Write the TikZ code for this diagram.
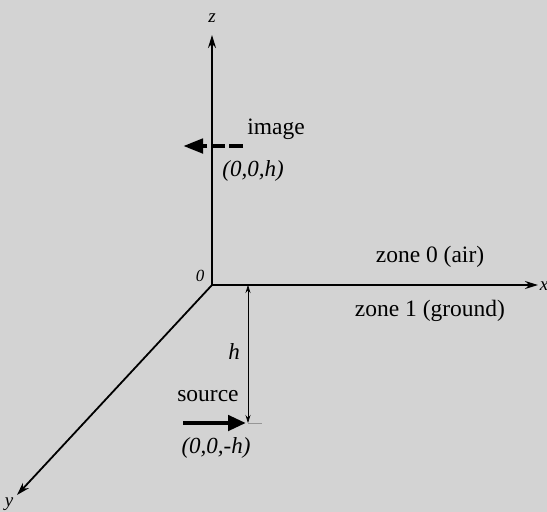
\documentclass[tikz,border=0pt]{standalone}
\usepackage{fontspec}
\setmainfont{Liberation Serif}
\usetikzlibrary{arrows.meta}
\begin{document}
\begin{tikzpicture}[x=1pt,y=-1pt,
  axis/.style={line width=1.8pt,-{Stealth[length=13pt,width=8pt]}},
  thickarrow/.style={line width=4.5pt,-{Triangle[length=18pt,width=15pt]}},
  dim/.style={line width=0.7pt,{Stealth[length=8pt,width=5pt]}-{Stealth[length=8pt,width=5pt]}},
  lbl/.style={font=\fontsize{23.5}{28}\selectfont,inner sep=0pt},
  ilbl/.style={font=\fontsize{23}{28}\selectfont\itshape,inner sep=0pt}]
\fill[color={rgb,255:red,211;green,211;blue,211}] (0,0) rectangle (547,512);
\useasboundingbox (0,0) rectangle (547,512);
\coordinate (O) at (212,285);
\coordinate (zend) at (212,35);
\coordinate (xend) at (538,285);
\coordinate (yend) at (17,495);
\draw[axis] (O) -- (zend);
\draw[axis] (O) -- (xend);
\draw[axis] (O) -- (yend);
\node[ilbl,font=\fontsize{19}{22}\selectfont\itshape] (zl) at (212,18) {z};
\node[ilbl,font=\fontsize{19}{22}\selectfont\itshape] (xl) at (544,286) {x};
\node[ilbl,font=\fontsize{19}{22}\selectfont\itshape] (yl) at (9,504) {y};
\node[ilbl,font=\fontsize{17}{20}\selectfont\itshape] (ol) at (200,276) {0};
% image
\coordinate (imgs) at (243,146);
\coordinate (imge) at (183,146);
\draw[line width=4.5pt,dash pattern=on 14pt off 4pt] (imgs) -- (203,146);
\draw[line width=4.5pt,-{Triangle[length=20pt,width=14pt]}] (205,146) -- (imge);
\node[lbl] (img) at (276,129) {image};
\node[ilbl] (imgc) at (253,171) {(0,0,h)};
% h dimension
\coordinate (htop) at (248,285);
\coordinate (hbot) at (248,423);
\draw[dim] (htop) -- (hbot);
\node[ilbl] (hl) at (234,352) {h};
\draw[line width=0.8pt,color={rgb,255:red,150;green,150;blue,150}] (hbot) -- (262,423);
% source
\coordinate (srcs) at (183,423);
\coordinate (srce) at (246,423);
\draw[thickarrow] (srcs) -- (srce);
\node[lbl] (src) at (208,396) {source};
\node[ilbl] (srcc) at (216,448) {(0,0,-h)};
% zones
\node[lbl] (z0) at (430,257) {zone 0 (air)};
\node[lbl] (z1) at (430,311) {zone 1 (ground)};
\end{tikzpicture}
\end{document}
